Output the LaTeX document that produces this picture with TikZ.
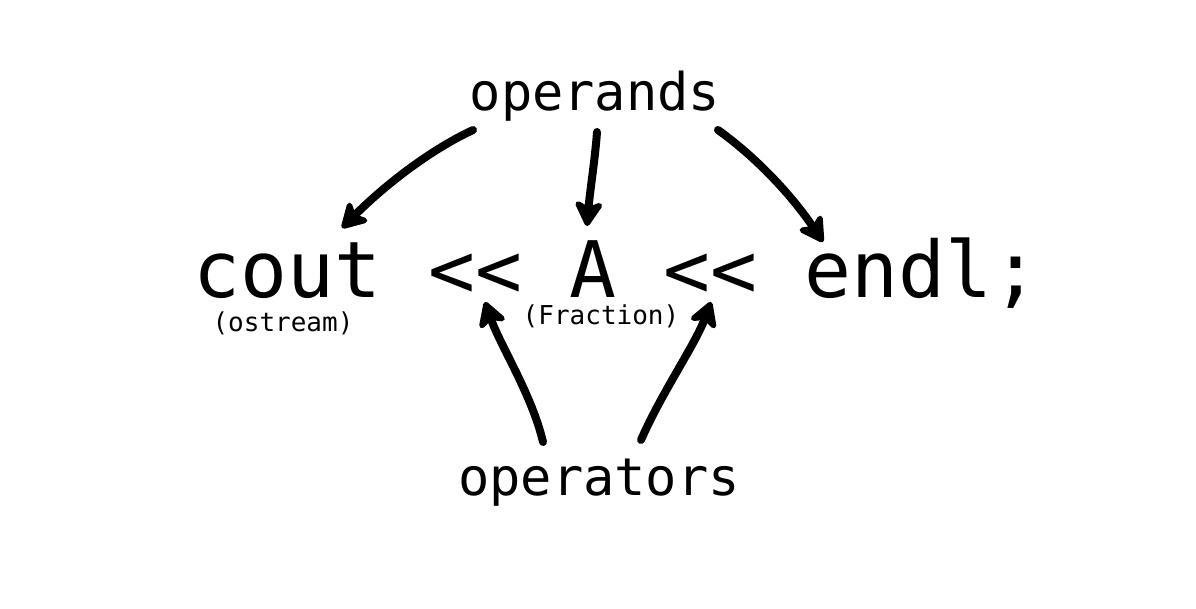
\documentclass[tikz,border=0pt]{standalone}
\usepackage{fontspec}
\setmonofont{DejaVu Sans Mono}
\usetikzlibrary{arrows.meta}
\tikzset{
  big/.style={font=\ttfamily\fontsize{78}{80}\selectfont, inner sep=0pt, anchor=base west},
  label/.style={font=\ttfamily\fontsize{52}{56}\selectfont, inner sep=0pt, anchor=base},
  small/.style={font=\ttfamily\fontsize{26}{28}\selectfont, inner sep=0pt, anchor=base},
  hand/.style={line width=8pt, line cap=round, line join=round,
    -{Stealth[length=30pt,width=34pt,inset=8pt,round]}},
}
\begin{document}
\begin{tikzpicture}[x=1pt,y=-1pt]
\useasboundingbox (0,0) rectangle (1196,608);
\node[label] (operands) at (595,110) {operands};
\node[label] (operators) at (599,495) {operators};
\node[big] (cout) at (193,297) {cout};
\node[big] (op1) at (428,297) {<<};
\node[big] (A) at (569,297) {A};
\node[big] (op2) at (663,297) {<<};
\node[big] (endl) at (804,297) {endl;};
\node[small] (ostream) at (283,331) {(ostream)};
\node[small] (fraction) at (601,324) {(Fraction)};
\coordinate (s1) at (473,130);
\coordinate (t1) at (342,228);
\coordinate (s2) at (597,132);
\coordinate (t2) at (587,226);
\coordinate (s3) at (718,130);
\coordinate (t3) at (823,242);
\coordinate (s4) at (543,442);
\coordinate (t4) at (485,302);
\coordinate (s5) at (641,440);
\coordinate (t5) at (711,302);
\draw[hand] (s1) .. controls (430,150) and (385,185) .. (t1);
\draw[hand] (s2) .. controls (595,160) and (590,190) .. (t2);
\draw[hand] (s3) .. controls (760,160) and (795,200) .. (t3);
\draw[hand] (s4) .. controls (532,395) and (500,345) .. (t4);
\draw[hand] (s5) .. controls (662,392) and (695,345) .. (t5);
\end{tikzpicture}
\end{document}
